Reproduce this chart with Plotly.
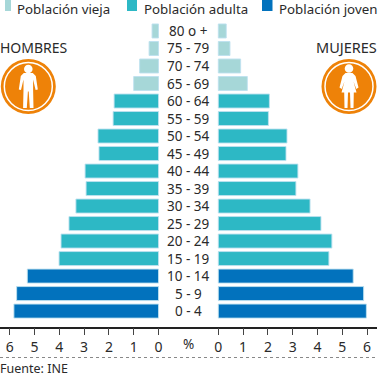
import plotly.graph_objects as go

W, H = 379, 377
FONT = "Noto Sans"
TXT = "#2a2a2a"

categories = ["0 - 4", "5 - 9", "10 - 14", "15 - 19", "20 - 24", "25 - 29", "30 - 34", "35 - 39", "40 - 44",
              "45 - 49", "50 - 54", "55 - 59", "60 - 64", "65 - 69", "70 - 74", "75 - 79", "80 o +"]
hombres = [5.83, 5.72, 5.29, 4.01, 3.93, 3.61, 3.33, 2.92, 2.96, 2.40, 2.44, 1.83, 1.79, 1.00, 0.76, 0.38, 0.26]
mujeres = [5.97, 5.86, 5.44, 4.46, 4.58, 4.14, 3.70, 3.13, 3.21, 2.73, 2.77, 2.02, 2.06, 1.17, 0.90, 0.47, 0.32]
grupos = ["Población joven"] * 3 + ["Población adulta"] * 10 + ["Población vieja"] * 4
colores = {"Población vieja": "#A6D7D8", "Población adulta": "#2DB8C5", "Población joven": "#0272BD"}
ticks = [0, 1, 2, 3, 4, 5, 6]


def px(x):
    return x / W


def py(y):
    return 1 - y / H


fig = go.Figure()
bar_colors = [colores[g] for g in grupos]
line = dict(color="rgba(190,225,240,0.9)", width=1)
fig.add_trace(go.Bar(y=categories, x=hombres, orientation="h", xaxis="x", yaxis="y",
                     marker=dict(color=bar_colors, line=line), showlegend=False))
fig.add_trace(go.Bar(y=categories, x=mujeres, orientation="h", xaxis="x2", yaxis="y",
                     marker=dict(color=bar_colors, line=line), showlegend=False))

shapes, annotations = [], []


def label(x, y, text, size=14, anchor="left"):
    annotations.append(dict(xref="paper", yref="paper", x=px(x), y=py(y), text=text, showarrow=False,
                            xanchor=anchor, yanchor="middle", borderpad=0, borderwidth=0,
                            font=dict(family=FONT, size=size, color=TXT)))


# centre age labels
for c in categories:
    annotations.append(dict(xref="paper", yref="y", x=px(188.5), y=c, text=c, showarrow=False,
                            xanchor="center", yanchor="middle",
                            font=dict(family=FONT, size=13.5, color=TXT)))

# legend
for x0, w, name, tx in [(5, 6, "Población vieja", 17), (127, 10, "Población adulta", 144), (262, 10.5, "Población joven", 279)]:
    shapes.append(dict(type="rect", xref="paper", yref="paper", x0=px(x0), x1=px(x0 + w),
                       y0=py(0), y1=py(11), fillcolor=colores[name], line_width=0))
    label(tx, 9, name, 13.3)

label(0, 47, "HOMBRES", 14)
label(377, 47, "MUJERES", 14.5, "right")
label(188, 344, "%", 13.5, "center")
label(0, 368, "Fuente: INE", 12.5)

shapes.append(dict(type="line", xref="paper", yref="paper", x0=0, x1=px(377), y0=py(357.5), y1=py(357.5),
                   line=dict(color="#888888", width=1, dash="dot")))


def pth(cx, cy, pts):
    return "M " + " L ".join(f"{px(cx + a)} {py(cy + b)}" for a, b in pts) + " Z"


def icon(cx, cy, body, head_y):
    r, r2, hr = 27.5, 24, 4.3
    shapes.append(dict(type="circle", xref="paper", yref="paper", x0=px(cx - r), x1=px(cx + r), y0=py(cy + r), y1=py(cy - r),
                       fillcolor="#EE8208", line_width=0))
    shapes.append(dict(type="circle", xref="paper", yref="paper", x0=px(cx - r2), x1=px(cx + r2), y0=py(cy + r2), y1=py(cy - r2),
                       fillcolor="rgba(0,0,0,0)", line=dict(color="white", width=1.5)))
    shapes.append(dict(type="circle", xref="paper", yref="paper", x0=px(cx - hr), x1=px(cx + hr),
                       y0=py(cy + head_y + hr), y1=py(cy + head_y - hr), fillcolor="white", line_width=0))
    shapes.append(dict(type="path", xref="paper", yref="paper", path=pth(cx, cy, body), fillcolor="white", line_width=0))


hombre = [(-4.5, -13.5), (4.5, -13.5), (7.5, -10.5), (9.5, 3), (7.3, 3.5), (4.8, -7), (4.8, 3), (5.2, 21.5), (1.5, 21.5),
          (0.4, 5), (-0.4, 5), (-1.5, 21.5), (-5.2, 21.5), (-4.8, 3), (-4.8, -7), (-7.3, 3.5), (-9.5, 3), (-7.5, -10.5)]
mujer = [(-3.5, -13.5), (3.5, -13.5), (6.5, -10.5), (9.5, 1), (7.3, 2.5), (4.5, -5), (7.5, 6), (4.8, 6), (4.5, 21.5), (1.5, 21.5),
         (1, 6), (-1, 6), (-1.5, 21.5), (-4.5, 21.5), (-4.8, 6), (-7.5, 6), (-4.5, -5), (-7.3, 2.5), (-9.5, 1), (-6.5, -10.5)]
icon(28.3, 86.5, hombre, -17.5)
icon(349, 86.5, mujer, -18)

axis_common = dict(tickmode="array", tickvals=ticks, ticktext=[str(t) for t in ticks], showgrid=False, zeroline=False,
                   showline=True, linecolor="#222222", linewidth=1.5, ticks="outside", ticklen=7, tickcolor="#444444",
                   tickwidth=1, tickfont=dict(family=FONT, size=14, color=TXT), anchor="y", fixedrange=True)
SCALE = 24.8
fig.update_layout(
    width=W, height=H, margin=dict(l=0, r=0, t=0, b=0), paper_bgcolor="white", plot_bgcolor="white",
    barmode="overlay", bargap=0.2, showlegend=False, font=dict(family=FONT),
    xaxis=dict(domain=[0, 0.5], range=[158.5 / SCALE, (158.5 - 189.5) / SCALE], **axis_common),
    xaxis2=dict(domain=[0.5, 377 / 379], range=[(189.5 - 218.3) / SCALE, (377 - 218.3) / SCALE], **axis_common),
    yaxis=dict(domain=[(H - 326.5) / H, 1], type="category", categoryorder="array", categoryarray=categories,
               range=[-0.88, 17.77], showticklabels=False, showgrid=False, zeroline=False, showline=False, ticks="", fixedrange=True),
    shapes=shapes, annotations=annotations,
)
fig.write_html("out.html", config={"displayModeBar": False},
               post_script="document.body.style.margin='0';document.body.style.overflow='hidden';")
